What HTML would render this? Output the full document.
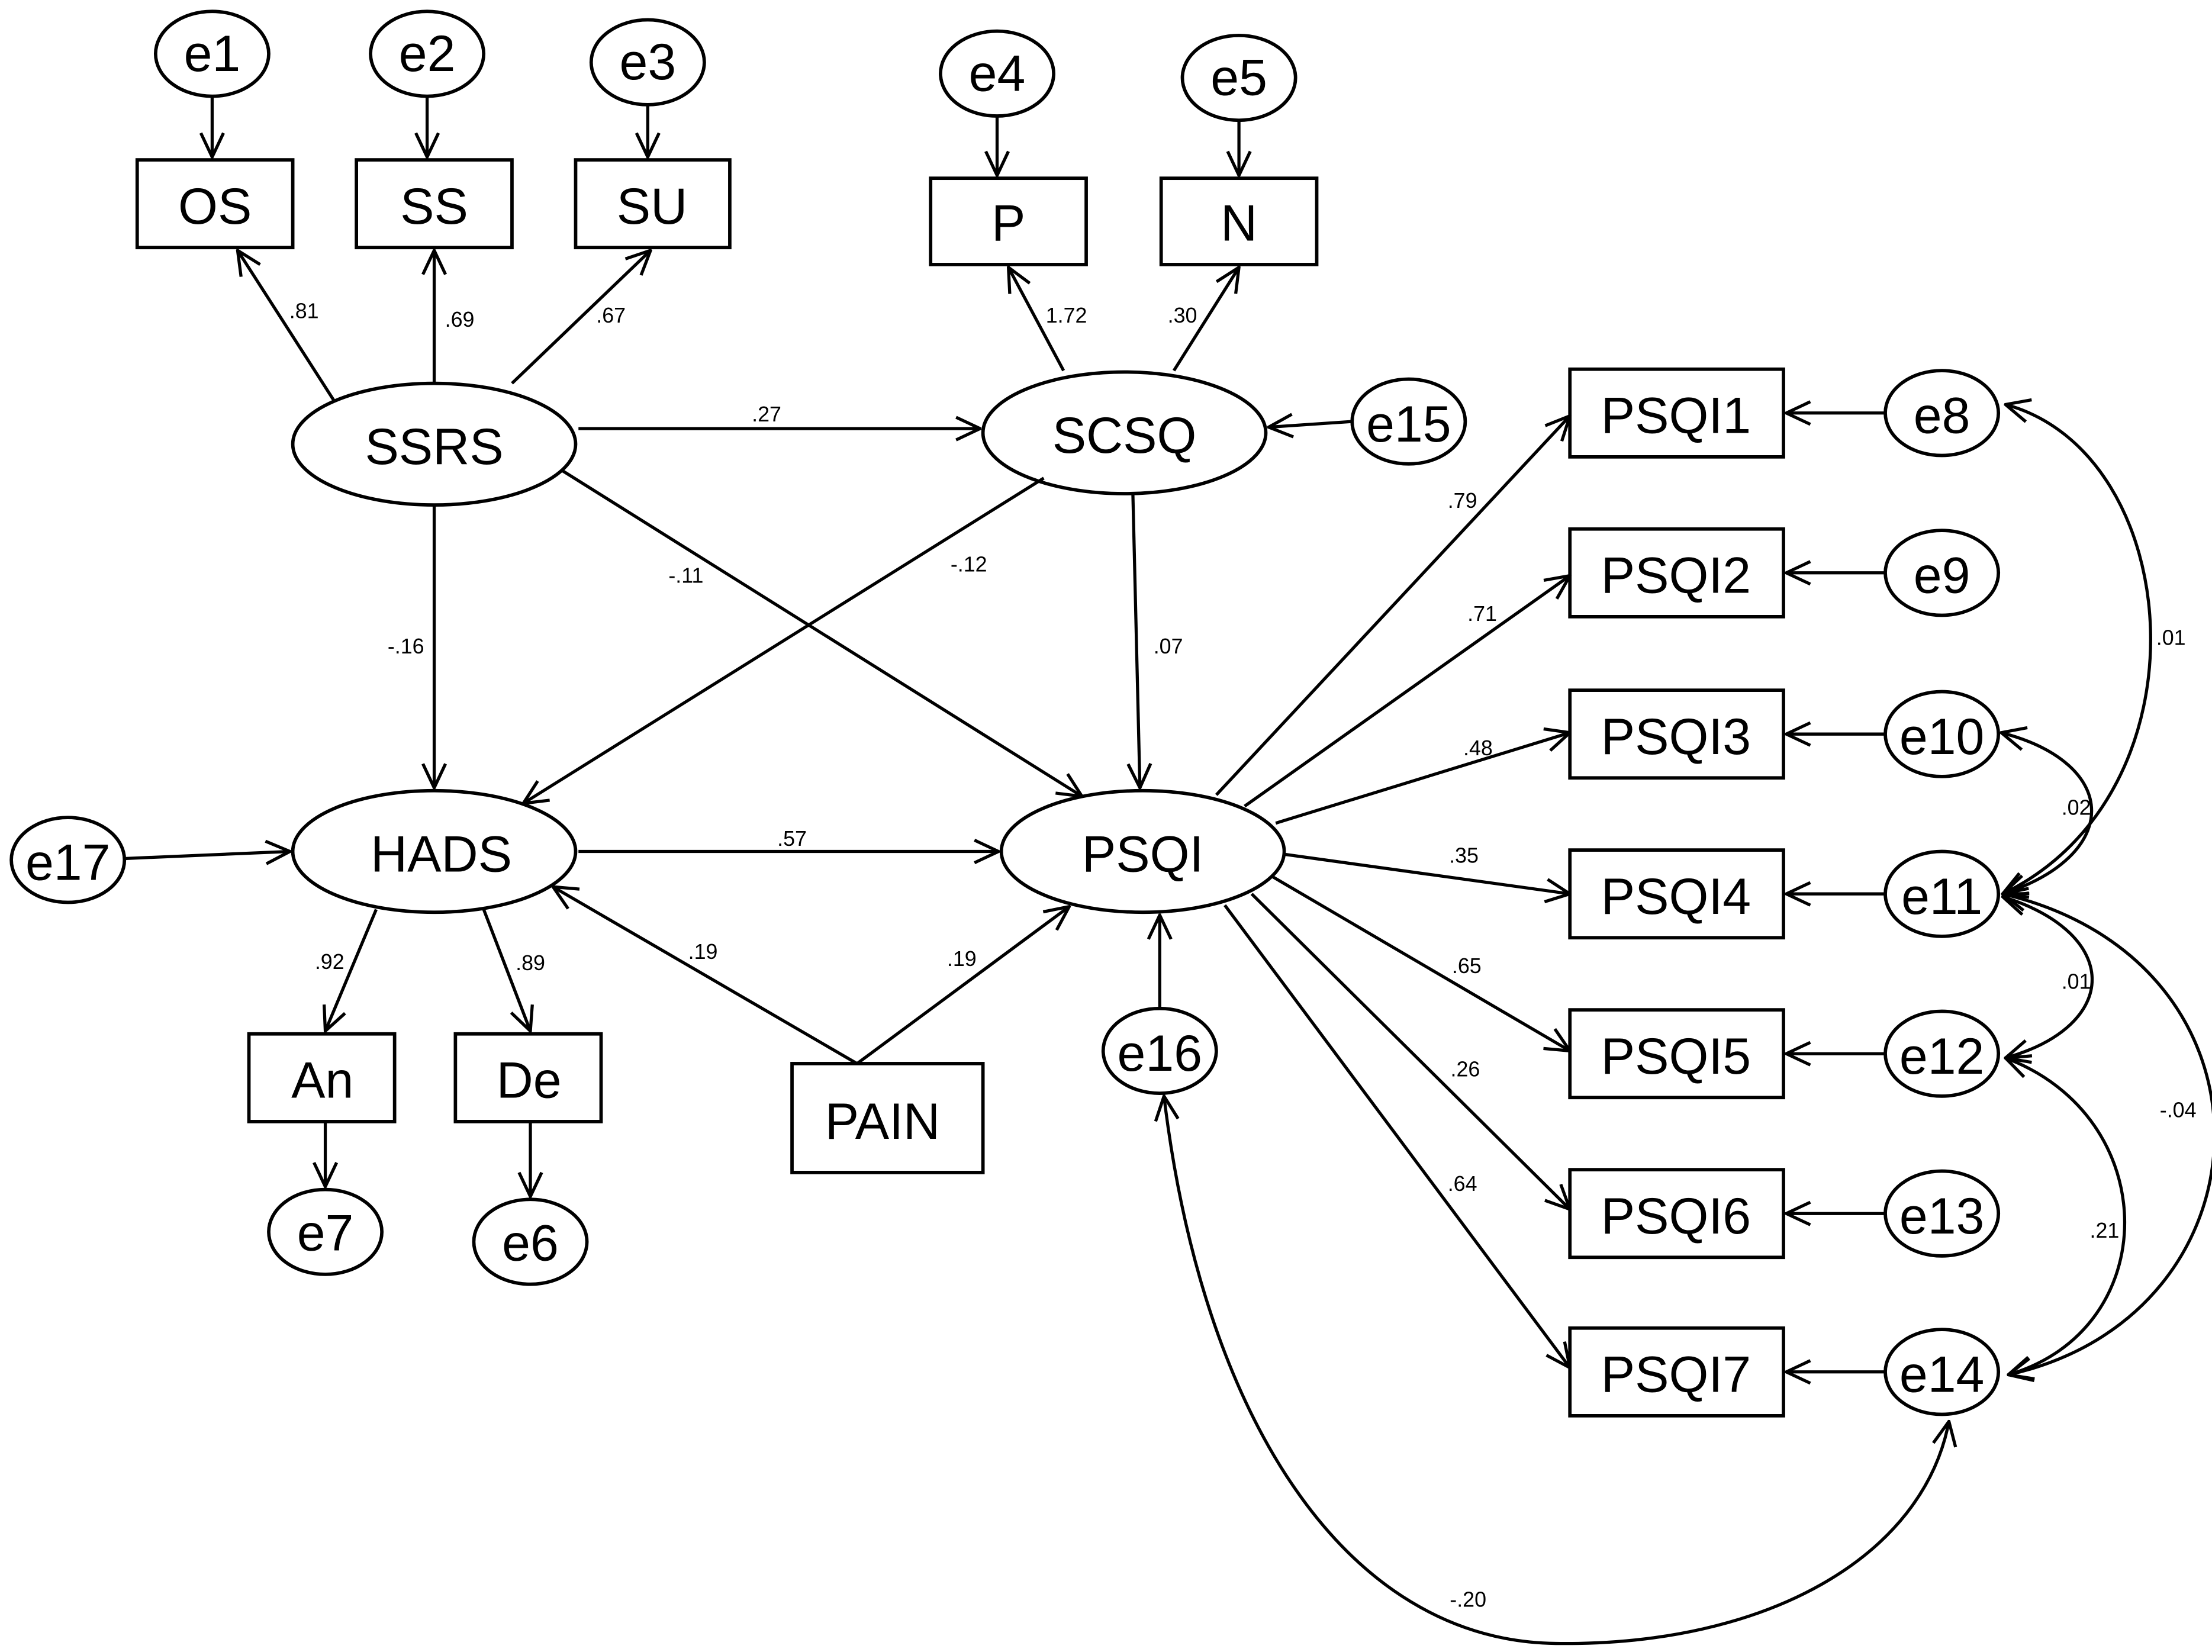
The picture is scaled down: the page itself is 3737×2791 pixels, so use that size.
<!DOCTYPE html>
<html><head><meta charset="utf-8"><style>
html,body{margin:0;padding:0;background:#fff;}
svg{display:block;}
text{font-family:"Liberation Sans",sans-serif;fill:#000;}
.n{font-size:36px;text-anchor:middle;dominant-baseline:central;}
.l{font-size:15px;text-anchor:middle;}
</style></head><body>
<svg width="3737" height="2791" viewBox="0 0 1564 1168" xmlns="http://www.w3.org/2000/svg">
<defs>
<marker id="a" viewBox="0 0 20 20" refX="19" refY="10" markerWidth="20" markerHeight="20" markerUnits="userSpaceOnUse" orient="auto-start-reverse">
<polyline points="2,2 19,10 2,18" fill="none" stroke="#000" stroke-width="2.2"/>
</marker>
</defs>
<g fill="#fff" stroke="#000" stroke-width="2.4">
<!-- top error ellipses -->
<ellipse cx="150" cy="38" rx="40" ry="30"/>
<ellipse cx="302" cy="38" rx="40" ry="30"/>
<ellipse cx="458" cy="44" rx="40" ry="30"/>
<ellipse cx="705" cy="52" rx="40" ry="30"/>
<ellipse cx="876" cy="55" rx="40" ry="30"/>
<rect x="97" y="113" width="110" height="62"/>
<rect x="252" y="113" width="110" height="62"/>
<rect x="407" y="113" width="109" height="62"/>
<rect x="658" y="126" width="110" height="61"/>
<rect x="821" y="126" width="110" height="61"/>
<ellipse cx="307" cy="314" rx="100" ry="43"/>
<ellipse cx="795" cy="306" rx="100" ry="43"/>
<ellipse cx="996" cy="298" rx="40" ry="30"/>
<ellipse cx="307" cy="602" rx="100" ry="43"/>
<ellipse cx="808" cy="602" rx="100" ry="43"/>
<ellipse cx="48" cy="608" rx="40" ry="30"/>
<rect x="176" y="731" width="103" height="62"/>
<rect x="322" y="731" width="103" height="62"/>
<ellipse cx="230" cy="871" rx="40" ry="30"/>
<ellipse cx="375" cy="878" rx="40" ry="30"/>
<rect x="560" y="752" width="135" height="77"/>
<ellipse cx="820" cy="743" rx="40" ry="30"/>
<rect x="1110" y="261" width="151" height="62"/>
<rect x="1110" y="374" width="151" height="62"/>
<rect x="1110" y="488" width="151" height="62"/>
<rect x="1110" y="601" width="151" height="62"/>
<rect x="1110" y="714" width="151" height="62"/>
<rect x="1110" y="827" width="151" height="62"/>
<rect x="1110" y="939" width="151" height="62"/>
<ellipse cx="1373" cy="292" rx="40" ry="30"/>
<ellipse cx="1373" cy="405" rx="40" ry="30"/>
<ellipse cx="1373" cy="519" rx="40" ry="30"/>
<ellipse cx="1373" cy="632" rx="40" ry="30"/>
<ellipse cx="1373" cy="745" rx="40" ry="30"/>
<ellipse cx="1373" cy="858" rx="40" ry="30"/>
<ellipse cx="1373" cy="970" rx="40" ry="30"/>
</g>
<g stroke="#000" stroke-width="2.2" fill="none" marker-end="url(#a)">
<line x1="150" y1="68" x2="150" y2="111"/>
<line x1="302" y1="68" x2="302" y2="111"/>
<line x1="458" y1="74" x2="458" y2="111"/>
<line x1="705" y1="82" x2="705" y2="124"/>
<line x1="876" y1="85" x2="876" y2="124"/>
<line x1="236" y1="283" x2="168" y2="177"/>
<line x1="307" y1="271" x2="307" y2="177"/>
<line x1="362" y1="271" x2="460" y2="177"/>
<line x1="752" y1="262" x2="713" y2="189"/>
<line x1="830" y1="262" x2="876" y2="189"/>
<line x1="409" y1="303" x2="693" y2="303"/>
<line x1="956" y1="298" x2="897" y2="302"/>
<line x1="307" y1="357" x2="307" y2="557"/>
<line x1="398" y1="333" x2="765" y2="563"/>
<line x1="738" y1="338" x2="370" y2="568"/>
<line x1="801" y1="349" x2="806" y2="557"/>
<line x1="409" y1="602" x2="706" y2="602"/>
<line x1="88" y1="607" x2="205" y2="602"/>
<line x1="266" y1="643" x2="230" y2="729"/>
<line x1="342" y1="643" x2="375" y2="729"/>
<line x1="230" y1="793" x2="230" y2="839"/>
<line x1="375" y1="793" x2="375" y2="846"/>
<line x1="606" y1="752" x2="391" y2="627"/>
<line x1="606" y1="752" x2="756" y2="641"/>
<line x1="820" y1="713" x2="820" y2="647"/>
<line x1="860" y1="562" x2="1110" y2="294"/>
<line x1="880" y1="570" x2="1110" y2="407"/>
<line x1="902" y1="582" x2="1110" y2="518"/>
<line x1="908" y1="604" x2="1110" y2="632"/>
<line x1="900" y1="620" x2="1110" y2="743"/>
<line x1="885" y1="632" x2="1110" y2="855"/>
<line x1="866" y1="640" x2="1110" y2="967"/>
<line x1="1333" y1="292" x2="1263" y2="292"/>
<line x1="1333" y1="405" x2="1263" y2="405"/>
<line x1="1333" y1="519" x2="1263" y2="519"/>
<line x1="1333" y1="632" x2="1263" y2="632"/>
<line x1="1333" y1="745" x2="1263" y2="745"/>
<line x1="1333" y1="858" x2="1263" y2="858"/>
<line x1="1333" y1="970" x2="1263" y2="970"/>
</g>
<g stroke="#000" stroke-width="2.2" fill="none" marker-start="url(#a)" marker-end="url(#a)">
<path d="M1418,286 C1545,320 1565,560 1416,632"/>
<path d="M1415,518 C1500,540 1500,605 1416,632"/>
<path d="M1416,634 C1500,660 1500,725 1418,748"/>
<path d="M1416,632 C1620,680 1610,930 1420,972"/>
<path d="M1418,748 C1530,790 1530,940 1420,972"/>
<path d="M823,775 C850,1000 950,1160 1100,1162 C1250,1164 1360,1100 1378,1005"/>
</g>
<g class="n">
<text x="150" y="38" class="n">e1</text><text x="302" y="38" class="n">e2</text><text x="458" y="44" class="n">e3</text>
<text x="705" y="52" class="n">e4</text><text x="876" y="55" class="n">e5</text>
<text x="152" y="146" class="n">OS</text><text x="307" y="146" class="n">SS</text><text x="461" y="146" class="n">SU</text>
<text x="713" y="158" class="n">P</text><text x="876" y="158" class="n">N</text>
<text x="307" y="316" class="n">SSRS</text><text x="795" y="308" class="n">SCSQ</text><text x="996" y="300" class="n">e15</text>
<text x="312" y="604" class="n">HADS</text><text x="808" y="604" class="n">PSQI</text><text x="48" y="610" class="n">e17</text>
<text x="228" y="764" class="n">An</text><text x="374" y="764" class="n">De</text>
<text x="230" y="872" class="n">e7</text><text x="375" y="879" class="n">e6</text>
<text x="624" y="793" class="n">PAIN</text><text x="820" y="745" class="n">e16</text>
<text x="1185" y="294" class="n">PSQI1</text><text x="1185" y="407" class="n">PSQI2</text><text x="1185" y="521" class="n">PSQI3</text>
<text x="1185" y="634" class="n">PSQI4</text><text x="1185" y="747" class="n">PSQI5</text><text x="1185" y="860" class="n">PSQI6</text><text x="1185" y="972" class="n">PSQI7</text>
<text x="1373" y="294" class="n">e8</text><text x="1373" y="407" class="n">e9</text><text x="1373" y="521" class="n">e10</text>
<text x="1373" y="634" class="n">e11</text><text x="1373" y="747" class="n">e12</text><text x="1373" y="860" class="n">e13</text><text x="1373" y="972" class="n">e14</text>
</g>
<g class="l">
<text x="215" y="225" class="l">.81</text><text x="325" y="231" class="l">.69</text><text x="432" y="228" class="l">.67</text>
<text x="754" y="228" class="l">1.72</text><text x="836" y="228" class="l">.30</text>
<text x="542" y="298" class="l">.27</text><text x="485" y="412" class="l">-.11</text><text x="685" y="404" class="l">-.12</text>
<text x="287" y="462" class="l">-.16</text><text x="826" y="462" class="l">.07</text>
<text x="560" y="598" class="l">.57</text><text x="233" y="685" class="l">.92</text><text x="375" y="686" class="l">.89</text>
<text x="497" y="678" class="l">.19</text><text x="680" y="683" class="l">.19</text>
<text x="1034" y="359" class="l">.79</text><text x="1048" y="439" class="l">.71</text><text x="1045" y="534" class="l">.48</text>
<text x="1035" y="610" class="l">.35</text><text x="1037" y="688" class="l">.65</text><text x="1036" y="761" class="l">.26</text>
<text x="1034" y="842" class="l">.64</text>
<text x="1535" y="456" class="l">.01</text><text x="1468" y="576" class="l">.02</text><text x="1468" y="699" class="l">.01</text>
<text x="1540" y="790" class="l">-.04</text><text x="1488" y="875" class="l">.21</text><text x="1038" y="1136" class="l">-.20</text>
</g>
</svg>
</body></html>
